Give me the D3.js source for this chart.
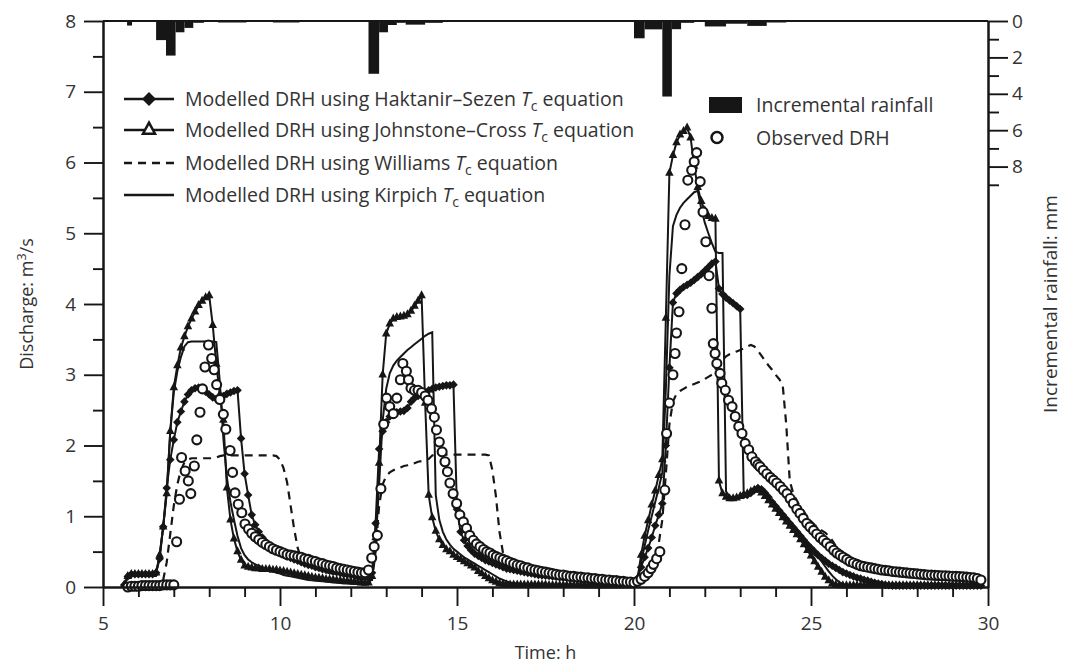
<!DOCTYPE html>
<html><head><meta charset="utf-8">
<script src="https://cdn.jsdelivr.net/npm/d3@7"></script>
<style>
body{margin:0;background:#fff;}
svg text{font-family:"Open Sans",sans-serif;fill:#333;}
</style></head><body>
<svg id="c" width="1070" height="664"></svg>
<script>
// ---------- data ----------
const xTicks = [5, 10, 15, 20, 25, 30];
const yTicks = [0, 1, 2, 3, 4, 5, 6, 7, 8];
const rainTicks = [0, 2, 4, 6, 8];

// rainfall bars (h start, h end, mm)
const rainStart = [5.68, 6.50, 6.78, 7.05, 7.30, 7.55, 8.25, 9.80, 12.50, 12.80, 13.05, 13.30, 13.55, 14.10, 20.00, 20.30, 20.80, 21.07, 21.33, 22.00, 22.60, 23.20, 23.75];
const rainEnd   = [5.82, 6.78, 7.05, 7.30, 7.55, 7.85, 9.05, 10.55, 12.80, 13.05, 13.30, 13.55, 14.10, 14.60, 20.30, 20.80, 21.07, 21.33, 21.70, 22.60, 23.20, 23.75, 24.30];
const rainMm    = [0.25, 1.05, 1.9, 0.62, 0.38, 0.1, 0.08, 0.06, 2.9, 0.62, 0.22, 0.1, 0.2, 0.1, 0.95, 0.46, 4.15, 0.45, 0.1, 0.3, 0.15, 0.27, 0.08];

// modelled series, sampled every 0.1 h from 5.6 h
const modelStart = 5.6, modelStep = 0.1;
const johnstoneCross = [
 0.03,0.15,0.18,0.18,0.18,0.18,0.18,0.18,0.18,0.2,
 0.45,0.85,1.32,2.2,2.82,3.13,3.38,3.54,3.68,3.79,
 3.89,3.98,4.04,4.09,4.12,3.7,3.15,2.72,2.36,1.4,
 0.95,0.68,0.5,0.38,0.3,0.28,0.27,0.26,0.26,0.25,
 0.25,0.25,0.24,0.24,0.23,0.22,0.21,0.2,0.19,0.18,
 0.17,0.16,0.15,0.14,0.13,0.125,0.12,0.11,0.105,0.1,
 0.095,0.09,0.085,0.08,0.075,0.07,0.065,0.06,0.055,0.06,
 0.15,0.7,1.75,3.0,3.58,3.72,3.79,3.81,3.82,3.83,
 3.85,3.9,3.97,4.04,4.12,2.6,1.3,0.98,0.79,0.67,
 0.59,0.53,0.5,0.45,0.42,0.39,0.36,0.33,0.3,0.27,
 0.22,0.19,0.15,0.12,0.09,0.07,0.05,0.04,0.035,0.03,
 0.03,0.03,0.03,0.03,0.03,0.03,0.03,0.03,0.03,0.03,
 0.025,0.025,0.025,0.025,0.025,0.025,0.025,0.025,0.025,0.025,
 0.02,0.02,0.02,0.02,0.02,0.02,0.02,0.02,0.02,0.02,
 0.02,0.02,0.02,0.02,0.03,0.12,0.45,0.72,0.94,1.16,
 1.36,1.58,1.8,3.8,5.85,6.1,6.28,6.39,6.44,6.49,
 6.35,5.95,5.65,5.45,5.32,5.24,5.21,5.2,1.5,1.32,
 1.27,1.25,1.25,1.26,1.28,1.3,1.32,1.35,1.37,1.37,
 1.33,1.28,1.22,1.16,1.1,1.04,0.98,0.92,0.86,0.8,
 0.74,0.67,0.6,0.52,0.44,0.36,0.28,0.21,0.14,0.09,
 0.05,0.03,0.02,0.02,0.02,0.02,0.02,0.02,0.02,0.02,
 0.02,0.02,0.02,0.02,0.02,0.02,0.02,0.02,0.02,0.02,
 0.02,0.02,0.02,0.02,0.02,0.02,0.02,0.02,0.02,0.02,
 0.02,0.02,0.02,0.02,0.02,0.02,0.02,0.02,0.02,0.02,
 0.02,0.02,0.02];
const haktanirSezen = [
 0.03,0.15,0.18,0.18,0.18,0.18,0.18,0.18,0.18,0.2,
 0.4,0.85,1.4,1.8,2.08,2.33,2.48,2.62,2.72,2.78,
 2.81,2.82,2.8,2.76,2.72,2.68,2.66,2.67,2.7,2.73,
 2.75,2.77,2.78,2.1,1.6,1.3,1.02,0.88,0.78,0.7,
 0.64,0.59,0.55,0.52,0.49,0.46,0.43,0.41,0.39,0.37,
 0.35,0.33,0.31,0.3,0.28,0.27,0.25,0.24,0.23,0.22,
 0.21,0.2,0.19,0.18,0.17,0.16,0.15,0.14,0.13,0.13,
 0.2,0.9,1.95,2.2,2.33,2.41,2.45,2.47,2.48,2.49,
 2.53,2.62,2.67,2.7,2.72,2.75,2.78,2.8,2.82,2.83,
 2.84,2.85,2.85,2.86,1.1,0.78,0.66,0.58,0.52,0.47,
 0.44,0.41,0.38,0.36,0.34,0.32,0.3,0.28,0.26,0.25,
 0.24,0.23,0.22,0.21,0.2,0.19,0.18,0.17,0.165,0.16,
 0.155,0.15,0.145,0.14,0.135,0.13,0.125,0.12,0.115,0.11,
 0.105,0.1,0.1,0.095,0.09,0.09,0.085,0.085,0.08,0.08,
 0.08,0.075,0.075,0.075,0.08,0.12,0.28,0.42,0.55,0.7,
 0.87,1.02,1.18,2.0,3.1,4.02,4.15,4.2,4.24,4.27,
 4.3,4.34,4.38,4.42,4.47,4.52,4.57,4.6,4.22,4.14,
 4.09,4.05,4.01,3.97,3.93,1.3,1.3,1.33,1.37,1.4,
 1.38,1.33,1.27,1.2,1.14,1.08,1.02,0.96,0.9,0.84,
 0.78,0.72,0.66,0.6,0.55,0.5,0.45,0.41,0.37,0.33,
 0.3,0.27,0.24,0.21,0.19,0.17,0.15,0.13,0.12,0.1,
 0.09,0.075,0.06,0.05,0.04,0.03,0.025,0.02,0.02,0.02,
 0.02,0.02,0.02,0.02,0.02,0.02,0.02,0.02,0.02,0.02,
 0.02,0.02,0.02,0.02,0.02,0.02,0.02,0.02,0.02,0.02,
 0.02,0.02,0.02];
const kirpich = [
 0.03,0.14,0.17,0.17,0.17,0.17,0.17,0.17,0.17,0.19,
 0.45,0.85,1.35,2.2,2.75,3.05,3.25,3.4,3.46,3.47,
 3.47,3.47,3.47,3.47,3.47,3.47,3.46,2.9,2.1,1.55,
 1.2,0.95,0.72,0.55,0.45,0.39,0.35,0.32,0.3,0.28,
 0.26,0.24,0.22,0.2,0.19,0.17,0.16,0.15,0.14,0.13,
 0.12,0.11,0.1,0.095,0.09,0.085,0.08,0.075,0.07,0.065,
 0.06,0.055,0.05,0.05,0.045,0.045,0.04,0.04,0.04,0.05,
 0.12,0.6,1.45,2.35,2.8,3.02,3.13,3.2,3.25,3.3,
 3.35,3.39,3.43,3.47,3.51,3.55,3.58,3.6,1.3,0.95,
 0.78,0.67,0.6,0.54,0.5,0.46,0.42,0.39,0.36,0.33,
 0.3,0.27,0.24,0.21,0.18,0.15,0.12,0.1,0.08,0.065,
 0.055,0.05,0.045,0.04,0.04,0.035,0.035,0.03,0.03,0.03,
 0.03,0.03,0.03,0.03,0.03,0.03,0.03,0.03,0.03,0.03,
 0.025,0.025,0.025,0.025,0.025,0.025,0.025,0.025,0.025,0.025,
 0.025,0.025,0.025,0.025,0.03,0.12,0.35,0.58,0.8,1.0,
 1.2,1.4,1.62,2.8,4.4,5.1,5.26,5.36,5.43,5.48,
 5.53,5.58,5.6,5.35,5.15,5.0,4.86,4.74,4.72,4.72,
 1.35,1.28,1.27,1.28,1.29,1.3,1.32,1.34,1.36,1.37,
 1.34,1.3,1.25,1.2,1.15,1.1,1.04,0.99,0.93,0.88,
 0.82,0.76,0.7,0.64,0.57,0.5,0.43,0.36,0.29,0.22,
 0.16,0.11,0.07,0.04,0.03,0.02,0.02,0.02,0.02,0.02,
 0.02,0.02,0.02,0.02,0.02,0.02,0.02,0.02,0.02,0.02,
 0.02,0.02,0.02,0.02,0.02,0.02,0.02,0.02,0.02,0.02,
 0.02,0.02,0.02,0.02,0.02,0.02,0.02,0.02,0.02,0.02,
 0.02,0.02,0.02];
const williams = [
 0,0,0,0,0,0,0,0,0,0,
 0.02,0.1,0.35,0.75,1.15,1.45,1.65,1.76,1.8,1.82,
 1.82,1.82,1.82,1.82,1.82,1.82,1.83,1.85,1.86,1.86,
 1.86,1.86,1.86,1.86,1.86,1.86,1.86,1.86,1.86,1.86,
 1.86,1.86,1.86,1.85,1.8,1.68,1.48,1.15,0.82,0.55,
 0.4,0.35,0.32,0.29,0.27,0.25,0.23,0.21,0.2,0.19,
 0.18,0.17,0.16,0.15,0.14,0.13,0.12,0.11,0.1,0.1,
 0.1,0.5,1.15,1.45,1.57,1.62,1.65,1.67,1.69,1.71,
 1.72,1.74,1.75,1.77,1.78,1.8,1.81,1.86,1.87,1.87,
 1.87,1.87,1.87,1.87,1.87,1.87,1.87,1.87,1.87,1.87,
 1.87,1.87,1.87,1.86,1.65,1.28,0.78,0.48,0.4,0.35,
 0.32,0.29,0.27,0.25,0.23,0.21,0.2,0.19,0.18,0.17,
 0.16,0.155,0.15,0.14,0.135,0.13,0.125,0.12,0.115,0.11,
 0.105,0.1,0.1,0.095,0.09,0.09,0.085,0.08,0.08,0.075,
 0.075,0.07,0.07,0.07,0.07,0.08,0.12,0.18,0.26,0.35,
 0.45,0.62,0.95,1.6,2.3,2.62,2.73,2.77,2.8,2.83,
 2.85,2.87,2.89,2.91,2.94,2.97,3.0,3.08,3.15,3.21,
 3.26,3.29,3.31,3.33,3.35,3.37,3.4,3.42,3.4,3.34,
 3.27,3.2,3.13,3.07,3.0,2.94,2.86,2.3,1.5,1.32,
 1.22,1.13,1.06,0.99,0.93,0.88,0.84,0.8,0.77,0.72,
 0.66,0.58,0.5,0.44,0.39,0.35,0.32,0.3,0.28,0.26,
 0.25,0.24,0.23,0.22,0.21,0.21,0.2,0.2,0.19,0.19,
 0.185,0.18,0.18,0.175,0.17,0.17,0.165,0.16,0.16,0.155,
 0.15,0.15,0.145,0.14,0.14,0.135,0.13,0.13,0.125,0.12,
 0.12,0.115,0.11];

// observed DRH: [time h, discharge m3/s]
const observed = [
 [5.7,0],[5.8,0.01],[5.9,0.01],[6.0,0.01],[6.1,0.02],[6.2,0.02],[6.3,0.02],[6.4,0.02],[6.5,0.02],[6.6,0.02],[6.7,0.03],[6.8,0.03],[6.9,0.03],[7.0,0.03],
 [7.08,0.64],[7.16,1.24],[7.22,1.83],[7.32,1.64],[7.41,1.5],[7.48,1.32],[7.58,1.71],[7.65,2.08],[7.74,2.47],[7.81,2.8],[7.88,3.11],[7.98,3.42],[8.07,3.23],[8.14,3.07],[8.21,2.86],[8.3,2.65],[8.4,2.44],[8.47,2.23],[8.59,1.93],[8.66,1.62],[8.73,1.33],[8.82,1.17],[8.92,1.05],[9.01,0.89],[9.11,0.82],
 [9.2,0.76],[9.3,0.71],[9.4,0.67],[9.5,0.63],[9.6,0.6],[9.7,0.57],[9.8,0.54],[9.9,0.52],[10.0,0.5],[10.1,0.48],[10.2,0.46],[10.3,0.45],[10.4,0.44],[10.5,0.43],[10.6,0.42],[10.7,0.4],[10.8,0.39],[10.9,0.37],[11.0,0.36],[11.1,0.34],[11.2,0.33],[11.3,0.31],[11.4,0.3],[11.5,0.29],[11.6,0.27],[11.7,0.26],[11.8,0.25],[11.9,0.24],[12.0,0.23],[12.1,0.22],[12.2,0.21],[12.3,0.2],[12.4,0.2],[12.5,0.24],
 [12.59,0.41],[12.66,0.57],[12.75,0.73],[12.85,1.39],[12.93,2.3],[13.01,2.67],[13.1,2.55],[13.2,2.45],[13.3,2.67],[13.4,2.93],[13.47,3.16],[13.57,3.05],[13.63,2.93],[13.7,2.81],[13.8,2.78],[13.9,2.78],[14.0,2.75],[14.1,2.7],[14.18,2.64],[14.28,2.52],[14.36,2.4],[14.42,2.22],[14.5,2.05],[14.58,1.91],[14.66,1.77],[14.73,1.63],[14.8,1.47],[14.89,1.32],[14.99,1.18],[15.08,1.02],[15.18,0.92],[15.27,0.83],[15.36,0.73],[15.46,0.66],[15.55,0.61],[15.65,0.57],[15.75,0.53],[15.84,0.5],[15.93,0.48],[16.02,0.45],[16.11,0.43],[16.21,0.41],[16.3,0.39],[16.4,0.37],[16.5,0.35],[16.6,0.33],[16.7,0.31],[16.8,0.3],[16.9,0.28],[17.0,0.27],[17.1,0.25],[17.2,0.24],[17.3,0.23],[17.4,0.22],[17.5,0.21],[17.6,0.2],[17.7,0.19],[17.8,0.18],[17.9,0.17],[18.0,0.17],[18.1,0.16],[18.2,0.15],[18.3,0.15],[18.4,0.14],[18.5,0.14],[18.6,0.13],[18.7,0.13],[18.8,0.12],[18.9,0.12],[19.0,0.11],[19.1,0.11],[19.2,0.1],[19.3,0.1],[19.4,0.09],[19.5,0.09],[19.6,0.08],[19.7,0.08],[19.8,0.07],[19.9,0.07],[20.0,0.06],
 [20.1,0.08],[20.2,0.11],[20.3,0.15],[20.4,0.2],[20.48,0.26],[20.55,0.32],[20.64,0.4],[20.73,0.5],[20.87,1.37],[20.92,2.17],[21.0,2.6],[21.1,3.0],[21.16,3.3],[21.2,3.59],[21.27,3.89],[21.35,4.5],[21.44,5.12],[21.52,5.75],[21.63,5.89],[21.7,6.01],[21.77,6.14],[21.87,5.73],[21.95,5.3],[22.03,4.88],[22.12,4.4],[22.2,3.94],[22.24,3.44],[22.29,3.3],[22.34,3.16],[22.43,3.02],[22.48,2.88],[22.58,2.78],[22.67,2.64],[22.77,2.55],[22.86,2.41],[22.96,2.27],[23.05,2.17],[23.14,2.03],[23.24,1.94],[23.33,1.84],[23.43,1.77],[23.5,1.73],[23.56,1.7],[23.65,1.65],[23.75,1.6],[23.85,1.55],[23.94,1.51],[24.03,1.47],[24.13,1.42],[24.22,1.37],[24.32,1.32],[24.41,1.25],[24.5,1.18],[24.6,1.1],[24.69,1.04],[24.78,0.97],[24.88,0.9],[24.97,0.85],[25.07,0.8],[25.16,0.75],[25.26,0.7],[25.35,0.66],[25.44,0.62],[25.54,0.57],[25.64,0.52],[25.73,0.48],[25.82,0.45],[25.91,0.42],[26.01,0.39],[26.1,0.36],[26.2,0.34],[26.3,0.32],[26.4,0.3],[26.5,0.29],[26.6,0.28],[26.7,0.27],[26.8,0.26],[26.9,0.25],[27.0,0.24],[27.1,0.235],[27.2,0.23],[27.3,0.22],[27.4,0.215],[27.5,0.21],[27.6,0.205],[27.7,0.2],[27.8,0.195],[27.9,0.19],[28.0,0.185],[28.1,0.18],[28.2,0.175],[28.3,0.17],[28.4,0.168],[28.5,0.165],[28.6,0.162],[28.7,0.16],[28.8,0.158],[28.9,0.155],[29.0,0.152],[29.1,0.15],[29.2,0.148],[29.3,0.145],[29.4,0.14],[29.5,0.135],[29.6,0.13],[29.7,0.12],[29.8,0.1]];

// ---------- drawing ----------
const INK = "#161616";
const svg = d3.select("#c");
const x = d3.scaleLinear().domain([5, 30]).range([103, 988]);
const y = d3.scaleLinear().domain([0, 8]).range([587, 21]);
const yr = d3.scaleLinear().domain([0, 31.1]).range([21, 587]);

const timeOf = i => +(modelStart + i * modelStep).toFixed(2);
const toPts = arr => arr.map((v, i) => [timeOf(i), v]);

// rainfall bars
svg.append("g").selectAll("rect")
  .data(rainStart.map((s, i) => ({ s, e: rainEnd[i], d: rainMm[i] })))
  .join("rect")
  .attr("x", d => x(d.s)).attr("width", d => x(d.e) - x(d.s))
  .attr("y", yr(0)).attr("height", d => Math.max(1.5, yr(d.d) - yr(0)))
  .attr("fill", INK);

const line = d3.line().x(d => x(d[0])).y(d => y(d[1]));
const plot = svg.append("g");

// Williams (dashed)
plot.append("path").attr("d", line(toPts(williams)))
  .attr("fill", "none").attr("stroke", INK).attr("stroke-width", 2.2).attr("stroke-dasharray", "8,6");
// Kirpich (solid)
plot.append("path").attr("d", line(toPts(kirpich)))
  .attr("fill", "none").attr("stroke", INK).attr("stroke-width", 2);
// Haktanir–Sezen (diamonds)
plot.append("path").attr("d", line(toPts(haktanirSezen)))
  .attr("fill", "none").attr("stroke", INK).attr("stroke-width", 2);
const diamond = r => `M0,${-r}L${r},0L0,${r}L${-r},0Z`;
const triangle = (w, h) => `M0,${-h * 2 / 3}L${w / 2},${h / 3}L${-w / 2},${h / 3}Z`;
plot.append("g").selectAll("path").data(toPts(haktanirSezen)).join("path")
  .attr("d", diamond(4.3)).attr("transform", d => `translate(${x(d[0])},${y(d[1])})`).attr("fill", INK);
// Johnstone–Cross (triangles)
plot.append("path").attr("d", line(toPts(johnstoneCross)))
  .attr("fill", "none").attr("stroke", INK).attr("stroke-width", 2);
plot.append("g").selectAll("path").data(toPts(johnstoneCross)).join("path")
  .attr("d", triangle(8.5, 8)).attr("transform", d => `translate(${x(d[0])},${y(d[1])})`).attr("fill", INK);
// observed circles
plot.append("g").selectAll("circle").data(observed).join("circle")
  .attr("cx", d => x(d[0])).attr("cy", d => y(d[1])).attr("r", 4.5)
  .attr("fill", "#fff").attr("stroke", INK).attr("stroke-width", 2.1);

// ---------- axes ----------
function styleAxis(g) {
  g.selectAll(".domain").attr("stroke", INK).attr("stroke-width", 2);
  g.selectAll(".tick line").attr("stroke", INK).attr("stroke-width", 1.9);
  g.selectAll(".tick text").attr("font-size", 19).attr("fill", "#333").attr("font-family", "Open Sans");
}
const xMinor = d3.range(6, 30).filter(v => v % 5 !== 0);
const yMinor = d3.range(0.5, 8, 1);
const rMinor = [1, 3, 5, 7, 9];

svg.append("g").attr("transform", `translate(0,${y(0)})`)
  .call(d3.axisBottom(x).tickValues(xMinor).tickSize(10).tickSizeOuter(0).tickFormat(""))
  .call(styleAxis);
svg.append("g").attr("transform", `translate(0,${y(0)})`)
  .call(d3.axisBottom(x).tickValues(xTicks).tickSize(19).tickSizeOuter(0).tickPadding(11).tickFormat(d3.format("d")))
  .call(styleAxis);
svg.append("g").attr("transform", `translate(${x(5)},0)`)
  .call(d3.axisLeft(y).tickValues(yMinor).tickSize(10).tickSizeOuter(0).tickFormat(""))
  .call(styleAxis);
svg.append("g").attr("transform", `translate(${x(5)},0)`)
  .call(d3.axisLeft(y).tickValues(yTicks).tickSize(19).tickSizeOuter(0).tickPadding(8).tickFormat(d3.format("d")))
  .call(styleAxis);
svg.append("g").attr("transform", `translate(${x(30)},0)`)
  .call(d3.axisRight(yr).tickValues(rMinor).tickSize(11).tickSizeOuter(0).tickFormat(""))
  .call(styleAxis);
svg.append("g").attr("transform", `translate(${x(30)},0)`)
  .call(d3.axisRight(yr).tickValues(rainTicks).tickSize(20).tickSizeOuter(0).tickPadding(4).tickFormat(d3.format("d")))
  .call(styleAxis);
// top frame
svg.append("line").attr("x1", x(5)).attr("x2", x(30)).attr("y1", y(8)).attr("y2", y(8))
  .attr("stroke", INK).attr("stroke-width", 2);

// axis titles
svg.append("text").attr("x", (x(5) + x(30)) / 2).attr("y", 659).attr("text-anchor", "middle")
  .attr("font-size", 18).text("Time: h");
const yt = svg.append("text").attr("transform", `translate(33,${(y(0) + y(8)) / 2}) rotate(-90)`)
  .attr("text-anchor", "middle").attr("font-size", 18);
yt.append("tspan").text("Discharge: m");
yt.append("tspan").attr("font-size", 12.5).attr("dy", -7).text("3");
yt.append("tspan").attr("dy", 7).text("/s");
svg.append("text").attr("transform", `translate(1057,${(y(0) + y(8)) / 2}) rotate(-90)`)
  .attr("text-anchor", "middle").attr("font-size", 19).text("Incremental rainfall: mm");

// ---------- legends ----------
const legendItems = [
  { name: "Haktanir–Sezen", mark: "diamond", dash: null },
  { name: "Johnstone–Cross", mark: "triangle", dash: null },
  { name: "Williams", mark: null, dash: "8,6" },
  { name: "Kirpich", mark: null, dash: null }
];
const legendY = [99, 130, 163, 195];
const lg = svg.append("g");
legendItems.forEach((it, i) => {
  const cy = legendY[i];
  lg.append("line").attr("x1", 124).attr("x2", 174).attr("y1", cy).attr("y2", cy)
    .attr("stroke", INK).attr("stroke-width", 2.4).attr("stroke-dasharray", it.dash);
  if (it.mark === "diamond")
    lg.append("path").attr("d", diamond(7)).attr("transform", `translate(149,${cy})`).attr("fill", INK);
  if (it.mark === "triangle")
    lg.append("path").attr("d", triangle(12, 11)).attr("transform", `translate(149,${cy})`)
      .attr("fill", "#fff").attr("stroke", INK).attr("stroke-width", 2.5);
  const t = lg.append("text").attr("x", 185).attr("y", cy + 7).attr("font-size", 19.5);
  t.append("tspan").text(`Modelled DRH using ${it.name} `);
  t.append("tspan").attr("font-style", "italic").text("T");
  t.append("tspan").attr("font-size", 14).attr("dy", 5).text("c");
  t.append("tspan").attr("dy", -5).text(" equation");
});
lg.append("rect").attr("x", 709).attr("y", 97).attr("width", 33).attr("height", 16).attr("fill", INK);
lg.append("text").attr("x", 756).attr("y", 112).attr("font-size", 19.5).text("Incremental rainfall");
lg.append("circle").attr("cx", 717).attr("cy", 137.5).attr("r", 5.5).attr("fill", "#fff")
  .attr("stroke", INK).attr("stroke-width", 2.5);
lg.append("text").attr("x", 756).attr("y", 144.5).attr("font-size", 19.5).text("Observed DRH");
</script>
</body></html>
